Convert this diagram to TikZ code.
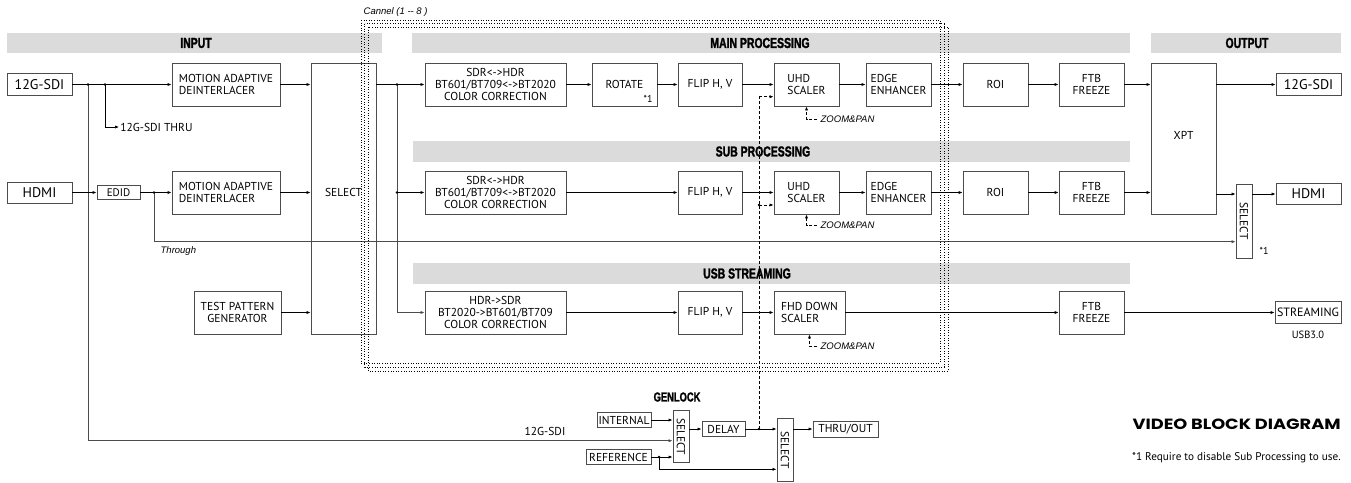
\documentclass[tikz,border=0pt]{standalone}
\usepackage{fontspec}
\setmainfont{PT Sans}
\newfontfamily\headfont{Liberation Sans Bold}[FakeStretch=0.72,FakeBold=1.6]
\newfontfamily\notefont{Liberation Sans}
\newfontfamily\titlefont{Poppins}[FakeStretch=1.2]
\usetikzlibrary{arrows.meta,calc}

\begin{document}
\begin{tikzpicture}[x=1pt,y=-1pt,>={Latex[length=4pt,width=3.2pt]},line width=0.7pt,
  font=\fontsize{11.5}{12}\selectfont,
  blk/.style={draw=black!70,line width=0.9pt,align=center,inner sep=1pt},
  port/.style={draw=black!70,line width=0.9pt,inner sep=0pt,font=\fontsize{14}{14}\selectfont},
  band/.style={fill=black!14},
  hd/.style={font=\headfont\fontsize{14.5}{15}\selectfont},
  note/.style={font=\notefont\itshape\fontsize{9.5}{10}\selectfont},
  chan/.style={dotted,line width=0.6pt},
  ctl/.style={dash pattern=on 3pt off 2pt}]
  \useasboundingbox (0,0) rectangle (1351,482);
  \fill[band] (7,33) rectangle (382,53);
  \fill[band] (412,33) rectangle (1130,53);
  \fill[band] (1151,33) rectangle (1341,53);
  \fill[band] (413,141) rectangle (1130,162);
  \fill[band] (413,263) rectangle (1130,284);
  \node[hd] (hin) at (196,43) {INPUT};
  \node[hd] (hmain) at (760,43) {MAIN PROCESSING};
  \node[hd] (hout) at (1247,43) {OUTPUT};
  \node[hd] (hsub) at (763,151.5) {SUB PROCESSING};
  \node[hd] (husb) at (747,273.5) {USB STREAMING};
  \node[hd,font=\headfont\fontsize{13}{13}\selectfont] (hgen) at (677,397) {GENLOCK};
  % input side
  \node[port,minimum width=65,minimum height=22] (in12g) at (39.5,84.5) {12G-SDI};
  \node[port,minimum width=65,minimum height=21] (inhdmi) at (39.5,192.5) {HDMI};
  \node[blk,minimum width=43,minimum height=14,font=\fontsize{11}{11}\selectfont] (edid) at (118.5,192.5) {EDID};
  \node[blk,align=left,minimum width=108,minimum height=43] (mad1) at (226,84.5) {MOTION ADAPTIVE\\DEINTERLACER};
  \node[blk,align=left,minimum width=108,minimum height=43] (mad2) at (226,192.5) {MOTION ADAPTIVE\\DEINTERLACER};
  \node[blk,minimum width=87,minimum height=43] (tpg) at (237.5,312.5) {TEST PATTERN\\GENERATOR};
  \node[blk,minimum width=65,minimum height=271,label={[yshift=6.5pt]center:SELECT}] (selin) at (343.5,198.5) {};
  \node[anchor=west,inner sep=1pt,font=\fontsize{11.5}{12}\selectfont] (sdithru) at (119,127) {12G-SDI THRU};
  \node[note,anchor=west] (thrulbl) at (157,251) {Through};
  \node[anchor=south,font=\fontsize{11.5}{12}\selectfont] (sdilbl) at (545,439) {12G-SDI};
  % processing rows
  \node[blk,minimum width=141,minimum height=43] (cc1) at (495.5,84.5) {SDR<->HDR\\BT601/BT709<->BT2020\\COLOR CORRECTION};
  \node[blk,minimum width=65,minimum height=43] (rot) at (624.5,84.5) {ROTATE};
  \node[font=\fontsize{10}{10}\selectfont] (rotnote) at (648,99) {*1};
  \node[blk,minimum width=64,minimum height=43] (flip1) at (710,84.5) {FLIP H, V};
  \node[blk,align=left,minimum width=65,minimum height=43] (uhd1) at (806.5,84.5) {UHD\\SCALER};
  \node[blk,align=left,minimum width=65,minimum height=43] (edge1) at (898.5,84.5) {EDGE\\ENHANCER};
  \node[blk,minimum width=65,minimum height=43] (roi1) at (995.5,84.5) {ROI};
  \node[blk,minimum width=65,minimum height=43] (ftb1) at (1091.5,84.5) {FTB\\FREEZE};
  \node[blk,minimum width=141,minimum height=43] (cc2) at (495.5,192.5) {SDR<->HDR\\BT601/BT709<->BT2020\\COLOR CORRECTION};
  \node[blk,minimum width=64,minimum height=43] (flip2) at (710,192.5) {FLIP H, V};
  \node[blk,align=left,minimum width=65,minimum height=43] (uhd2) at (806.5,192.5) {UHD\\SCALER};
  \node[blk,align=left,minimum width=65,minimum height=43] (edge2) at (898.5,192.5) {EDGE\\ENHANCER};
  \node[blk,minimum width=65,minimum height=43] (roi2) at (995.5,192.5) {ROI};
  \node[blk,minimum width=65,minimum height=43] (ftb2) at (1091.5,192.5) {FTB\\FREEZE};
  \node[blk,minimum width=141,minimum height=43] (cc3) at (495.5,312.5) {HDR->SDR\\BT2020->BT601/BT709\\COLOR CORRECTION};
  \node[blk,minimum width=64,minimum height=43] (flip3) at (710,312.5) {FLIP H, V};
  \node[blk,align=left,minimum width=71,minimum height=43] (fhd) at (809.5,312.5) {FHD DOWN\\SCALER};
  \node[blk,minimum width=65,minimum height=43] (ftb3) at (1091.5,312.5) {FTB\\FREEZE};
  \node[note,anchor=west] (zp1) at (817,119.5) {ZOOM\&PAN};
  \node[note,anchor=west] (zp2) at (817,225.5) {ZOOM\&PAN};
  \node[note,anchor=west] (zp3) at (817,346) {ZOOM\&PAN};
  % output side
  \node[blk,minimum width=65,minimum height=151,label={[yshift=3.5pt]center:XPT}] (xpt) at (1183.5,138.5) {};
  \node[port,minimum width=65,minimum height=22] (out12g) at (1308.5,84.5) {12G-SDI};
  \node[blk,minimum width=16,minimum height=74,label={[rotate=-90]center:SELECT}] (selout) at (1244,221) {};
  \node[font=\fontsize{10}{10}\selectfont] (selnote) at (1264,251) {*1};
  \node[port,minimum width=65,minimum height=21.5] (outhdmi) at (1308.5,194) {HDMI};
  \node[port,minimum width=66,minimum height=22,font=\fontsize{12}{12}\selectfont] (stream) at (1308,312.5) {STREAMING};
  \node[font=\fontsize{10.5}{11}\selectfont] (usblbl) at (1308,335) {USB3.0};
  % genlock
  \node[blk,minimum width=54,minimum height=14.5] (internal) at (624,420) {INTERNAL};
  \node[blk,minimum width=65,minimum height=14.5] (reference) at (618.5,457) {REFERENCE};
  \node[blk,minimum width=16,minimum height=51.5,label={[rotate=-90]center:SELECT}] (gsel1) at (681,436.5) {};
  \node[blk,minimum width=43,minimum height=15] (delay) at (723.5,429) {DELAY};
  \node[blk,minimum width=16,minimum height=63,label={[rotate=-90]center:SELECT}] (gsel2) at (785,450) {};
  \node[blk,minimum width=65,minimum height=16] (thru) at (845.5,429) {THRU/OUT};
  \node[font=\titlefont\bfseries\fontsize{14.8}{15}\selectfont,anchor=east,inner sep=0pt] (title) at (1341,424.5) {VIDEO BLOCK DIAGRAM};
  \node[font=\fontsize{11.2}{11.5}\selectfont,anchor=east,inner sep=0pt] (footnote) at (1341,458) {*1 Require to disable Sub Processing to use.};
  % connectors
  \coordinate (sdia) at (88,84.5);
  \coordinate (sdib) at (105,84.5);
  \coordinate (sdilow) at (88,440.7);
  \coordinate (hdmia) at (154,192.5);
  \coordinate (thrulow) at (154,241.7);
  \coordinate (sela) at (397,84.5);
  \coordinate (selb) at (397,192.5);
  \coordinate (refa) at (659,457);
  \coordinate (reflow) at (659,469.3);
  \coordinate (dela) at (759,429);
  \coordinate (ctlmain) at (759,96.7);
  \coordinate (ctlsub) at (759,205);
  \draw[->] (in12g) -- (mad1);
  \draw[->] (sdib) |- (sdithru.west);
  \draw[->,black!70] (sdia) -- (sdilow) -- (sdilow -| gsel1.west);
  \draw[->] (inhdmi) -- (edid);
  \draw[->] (edid) -- (mad2);
  \draw[->,black!70] (hdmia) -- (thrulow) -- (thrulow -| selout.west);
  \draw[->] (mad1) -- (mad1 -| selin.west);
  \draw[->] (mad2) -- (mad2 -| selin.west);
  \draw[->] (tpg) -- (tpg -| selin.west);
  \draw[->] (selin.east |- cc1) -- (cc1);
  \draw[->,black!70] (sela) |- (cc3.west);
  \draw[->] (selb) -- (cc2);
  \foreach \a/\b in {cc1/rot,rot/flip1,flip1/uhd1,uhd1/edge1,edge1/roi1,roi1/ftb1,
      cc2/flip2,flip2/uhd2,uhd2/edge2,edge2/roi2,roi2/ftb2,cc3/flip3,flip3/fhd,fhd/ftb3,ftb3/stream}
    \draw[->] (\a) -- (\b);
  \draw[->] (ftb1) -- (ftb1 -| xpt.west);
  \draw[->] (ftb2) -- (ftb2 -| xpt.west);
  \draw[->] (xpt.east |- out12g) -- (out12g);
  \draw[->] (xpt.east |- outhdmi) -- (outhdmi -| selout.west);
  \draw[->] (selout.east |- outhdmi) -- (outhdmi);
  \draw[->] (internal) -- (internal -| gsel1.west);
  \draw[->] (reference) -- (reference -| gsel1.west);
  \draw[->] (refa) -- (reflow) -- (reflow -| gsel2.west);
  \draw[->] (gsel1.east |- delay) -- (delay);
  \draw[->] (delay) -- (delay -| gsel2.west);
  \draw[->] (gsel2.east |- thru) -- (thru);
  \draw[ctl] (dela) -- (ctlmain);
  \draw[ctl,->] (ctlmain) -- (ctlmain -| uhd1.west);
  \draw[ctl,->] (ctlsub) -- (ctlsub -| uhd2.west);
  \draw[ctl,->] (zp1.west) -| (uhd1.south);
  \draw[ctl,->] (zp2.west) -| (uhd2.south);
  \draw[ctl,->] (zp3.west) -| (fhd.south);
  \foreach \p in {sdia,sdib,hdmia,sela,selb,refa,dela,ctlsub}
    \fill (\p) circle (1.3);
  \draw[chan] (361,20) rectangle (940,363);
  \draw[chan] (364.5,23.5) rectangle (944,367);
  \draw[chan] (368,27) rectangle (948,371);
  \node[note,anchor=west] (chlbl) at (360,12) {Cannel (1 {-}{-} 8 )};
\end{tikzpicture}
\end{document}
